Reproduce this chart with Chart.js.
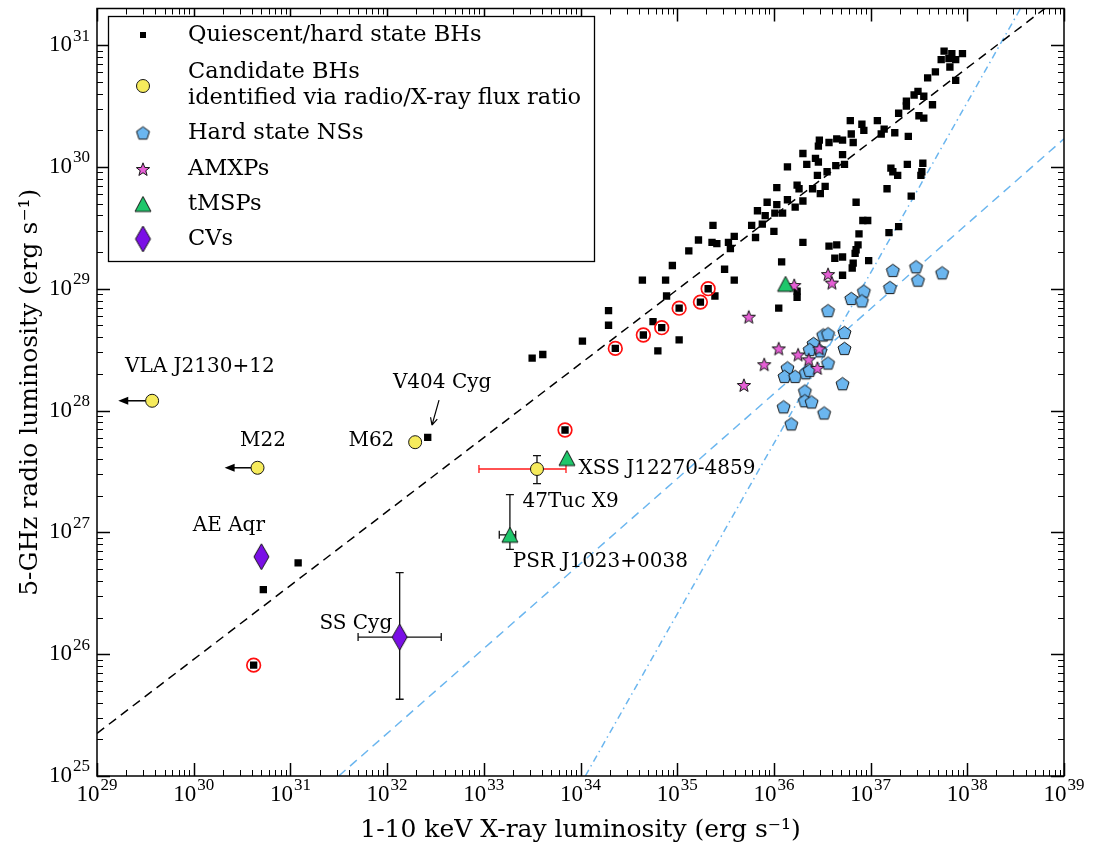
<!DOCTYPE html>
<html>
<head>
<meta charset="utf-8">
<script src="https://cdn.jsdelivr.net/npm/chart.js@4.4.1/dist/chart.umd.min.js"></script>
<style>
  body { margin: 0; background: #fff; }
</style>
</head>
<body>
<canvas id="chart" width="1100" height="850"></canvas>
<script>
// values are log10 of luminosity (erg/s)

// quiescent / hard state black holes
const bhLogLx = [37.76, 37.84, 37.95, 37.73, 37.81, 37.88, 37.82, 37.88, 37.67, 37.59,
  37.49, 37.45, 37.55, 37.37, 37.37, 37.29, 37.64, 37.50, 37.55, 37.39,
  37.25, 37.14, 37.11, 37.07, 36.91, 36.93, 36.79, 36.80, 36.82, 36.71,
  36.65, 36.57, 36.47, 36.46, 36.30, 36.43, 36.34, 36.46, 36.71, 36.64,
  36.73, 36.55, 36.45, 36.14, 36.03, 36.24, 36.26, 36.40, 36.53, 36.48,
  36.14, 36.30, 36.22, 35.93, 36.03, 36.01, 36.09, 35.83, 35.91, 35.88,
  35.77, 36.00, 35.81, 35.59, 35.53, 35.55, 35.41, 35.36, 35.22, 35.37,
  35.12, 36.30, 36.08, 35.49, 35.59, 34.95, 34.88, 34.64, 34.89, 34.29,
  35.39, 34.29, 34.02, 34.75, 34.80, 35.02, 33.50, 33.61,
  37.54, 37.38, 37.21, 37.23, 37.28, 37.53, 37.52, 37.17, 37.42, 36.85,
  36.92, 36.97, 37.29, 37.19, 36.88, 36.87, 36.85, 36.84, 36.98, 36.82,
  36.81, 36.71, 36.57, 36.65, 36.63, 36.71, 36.24, 36.24, 36.05,
  32.42, 31.08, 30.72];
const bhLogLr = [30.95, 30.93, 30.93, 30.88, 30.89, 30.88, 30.82, 30.71, 30.78, 30.73,
  30.62, 30.59, 30.58, 30.54, 30.50, 30.44, 30.51, 30.42, 30.40, 30.25,
  30.28, 30.31, 30.27, 30.38, 30.35, 30.30, 30.38, 30.27, 30.20, 30.22,
  30.23, 30.20, 30.22, 30.17, 30.11, 30.07, 30.02, 30.04, 30.10, 30.01,
  30.02, 29.96, 29.93, 30.00, 29.83, 29.85, 29.82, 29.82, 29.84, 29.78,
  29.73, 29.72, 29.67, 29.71, 29.69, 29.62, 29.62, 29.64, 29.60, 29.53,
  29.52, 29.47, 29.42, 29.43, 29.38, 29.33, 29.37, 29.38, 29.40, 29.52,
  29.31, 29.38, 29.22, 29.16, 29.07, 29.19, 29.07, 29.07, 28.94, 28.82,
  28.94, 28.70, 28.57, 28.73, 28.49, 28.58, 28.43, 28.46,
  30.03, 30.02, 29.99, 29.96, 29.93, 29.96, 29.93, 29.82, 29.76, 29.71,
  29.56, 29.56, 29.51, 29.46, 29.45, 29.36, 29.32, 29.29, 29.23, 29.21,
  29.17, 29.11, 29.35, 29.36, 29.25, 29.26, 28.98, 28.93, 28.84,
  27.78, 26.75, 26.53];

// black holes ringed in red
const ringLogLx = [34.36, 34.65, 34.84, 35.02, 35.24, 35.32, 33.84, 30.62];
const ringLogLr = [28.51, 28.62, 28.68, 28.84, 28.89, 29.00, 27.84, 25.91];

// candidate BHs: VLA J2130+12, M22, M62, 47Tuc X9
const candLogLx = [29.57, 30.66, 32.29, 33.55];
const candLogLr = [28.08, 27.53, 27.74, 27.52];
// upper limits in X-ray for the first two candidates
const limitLogLx = [29.22, 30.32];

// hard state neutron stars
const nsLogLx = [37.23, 37.47, 37.74, 37.49, 37.20, 36.93, 36.80, 36.91, 36.56, 36.73,
  36.51, 36.56, 36.73, 36.41, 36.37, 36.48, 36.56, 36.14, 36.11, 36.22,
  36.33, 36.37, 36.71, 36.32, 36.32, 36.39, 36.10, 36.52, 36.18];
const nsLogLr = [29.15, 29.18, 29.13, 29.07, 29.01, 28.98, 28.92, 28.90, 28.82, 28.64,
  28.62, 28.63, 28.51, 28.55, 28.50, 28.49, 28.39, 28.35, 28.28, 28.28,
  28.31, 28.33, 28.22, 28.16, 28.08, 28.07, 28.03, 27.98, 27.89];

// accreting millisecond X-ray pulsars
const amxpLogLx = [35.74, 36.05, 36.25, 35.90, 35.69, 36.36, 36.47, 36.45, 36.56, 36.60, 36.21];
const amxpLogLr = [28.77, 28.51, 28.46, 28.38, 28.21, 28.42, 28.51, 28.35, 29.12, 29.05, 29.03];

// transitional MSPs: XSS J12270-4859, PSR J1023+0038, one more
const tmspLogLx = [33.86, 33.27, 36.12];
const tmspLogLr = [27.61, 26.98, 29.04];

// CVs: AE Aqr, SS Cyg
const cvLogLx = [30.70, 32.13];
const cvLogLr = [26.80, 26.14];

// error bars: 47Tuc X9, PSR J1023+0038, SS Cyg
const errLogLx = [33.55, 33.27, 32.13];
const errLogLr = [27.52, 26.98, 26.14];
const errXlo = [32.95, 33.16, 31.70];
const errXhi = [33.85, 33.33, 32.56];
const errYlo = [27.40, 26.86, 25.63];
const errYhi = [27.63, 27.31, 26.67];

// correlation lines (two end points each)
const bhLineLx = [29.0, 39.0];
const bhLineLr = [25.35, 31.42];
const nsLineLx = [31.5, 39.0];
const nsLineLr = [25.0, 30.23];
const steepLineLx = [34.05, 38.6];
const steepLineLr = [25.0, 31.37];

// text labels, anchored at left / middle
const labelText = ['VLA J2130+12', 'V404 Cyg', 'M62', 'M22', 'AE Aqr', 'SS Cyg',
  'XSS J12270-4859', '47Tuc X9', 'PSR J1023+0038'];
const labelLogLx = [29.29, 32.06, 31.60, 30.48, 29.99, 31.30, 33.98, 33.40, 33.30];
const labelLogLr = [28.355, 28.23, 27.75, 27.75, 27.05, 26.25, 27.52, 27.25, 26.76];

const xDecades = [29, 30, 31, 32, 33, 34, 35, 36, 37, 38, 39];
const yDecades = [25, 26, 27, 28, 29, 30, 31];

const legendLabels = [['Quiescent/hard state BHs'],
  ['Candidate BHs', 'identified via radio/X-ray flux ratio'],
  ['Hard state NSs'], ['AMXPs'], ['tMSPs'], ['CVs']];

// ---- helpers ----
const pts = (xs, ys) => xs.map((v, i) => ({ x: 10 ** v, y: 10 ** ys[i] }));

const YELLOW = '#f6eb5c', BLUE = '#6bb6ef', PINK = '#e65fd6', GREEN = '#1fc76b', PURPLE = '#7a0fe6';
const TEXT_FONT = '20px "DejaVu Serif"';
const LEGEND_FONT = '22.5px "DejaVu Serif"';
const TICK_FONT = '23px "Liberation Serif"';
const EXP_FONT = '17px "Liberation Serif"';
const TITLE_FONT = '25px "DejaVu Serif"';

function shape(w, h, fill, path) {
  const c = document.createElement('canvas');
  c.width = w + 4; c.height = h + 4;
  const g = c.getContext('2d');
  g.translate(c.width / 2, c.height / 2);
  g.beginPath();
  path(g, w / 2, h / 2);
  g.closePath();
  g.fillStyle = fill; g.fill();
  g.lineWidth = 1; g.strokeStyle = '#151515'; g.stroke();
  return c;
}

const pentagon = shape(13, 13, BLUE, (g, rx) => {
  const r = rx / Math.sin(Math.PI * 0.4);
  for (let i = 0; i < 5; i++) {
    const a = -Math.PI / 2 + i * 2 * Math.PI / 5;
    g.lineTo(r * Math.cos(a), r * Math.sin(a) + 0.6);
  }
});
const star = shape(14, 14, PINK, (g, rx) => {
  for (let i = 0; i < 10; i++) {
    const a = -Math.PI / 2 + i * Math.PI / 5;
    const r = i % 2 ? rx * 0.42 : rx;
    g.lineTo(r * Math.cos(a), r * Math.sin(a) + 0.8);
  }
});
const triangle = shape(16, 15, GREEN, (g, rx, ry) => {
  g.moveTo(0, -ry); g.lineTo(rx, ry); g.lineTo(-rx, ry);
});
const diamond = shape(15, 26, PURPLE, (g, rx, ry) => {
  g.moveTo(0, -ry); g.lineTo(rx, 0); g.lineTo(0, ry); g.lineTo(-rx, 0);
});

function supText(ctx, exp, x, y, align) {
  ctx.font = TICK_FONT;
  const wb = ctx.measureText('10').width;
  ctx.font = EXP_FONT;
  const we = ctx.measureText(exp).width;
  const x0 = align === 'center' ? x - (wb + we + 1) / 2 : x - (wb + we + 1);
  ctx.textAlign = 'left';
  ctx.textBaseline = 'middle';
  ctx.font = TICK_FONT;
  ctx.fillText('10', x0, y);
  ctx.font = EXP_FONT;
  ctx.fillText(exp, x0 + wb + 1, y - 9);
}

function arrowHead(ctx, x, y, dir, len, half) {
  ctx.beginPath();
  ctx.moveTo(x, y);
  ctx.lineTo(x - dir * len, y - half);
  ctx.lineTo(x - dir * len, y + half);
  ctx.closePath();
  ctx.fill();
}

const overlay = {
  id: 'overlay',
  beforeDatasetsDraw(chart) {
    const { ctx, scales: { x, y } } = chart;
    ctx.save();
    ctx.lineWidth = 1.3;
    errLogLx.forEach((lx, i) => {
      const px = x.getPixelForValue(10 ** lx), py = y.getPixelForValue(10 ** errLogLr[i]);
      const x1 = x.getPixelForValue(10 ** errXlo[i]), x2 = x.getPixelForValue(10 ** errXhi[i]);
      const y1 = y.getPixelForValue(10 ** errYlo[i]), y2 = y.getPixelForValue(10 ** errYhi[i]);
      ctx.strokeStyle = i === 0 ? '#ff1a1a' : '#111';
      ctx.beginPath();
      ctx.moveTo(x1, py); ctx.lineTo(x2, py);
      ctx.moveTo(x1, py - 4); ctx.lineTo(x1, py + 4);
      ctx.moveTo(x2, py - 4); ctx.lineTo(x2, py + 4);
      ctx.stroke();
      ctx.strokeStyle = '#111';
      ctx.beginPath();
      ctx.moveTo(px, y1); ctx.lineTo(px, y2);
      ctx.moveTo(px - 4, y1); ctx.lineTo(px + 4, y1);
      ctx.moveTo(px - 4, y2); ctx.lineTo(px + 4, y2);
      ctx.stroke();
    });
    // upper limit arrows
    ctx.strokeStyle = '#000'; ctx.fillStyle = '#000'; ctx.lineWidth = 1.5;
    limitLogLx.forEach((lx, i) => {
      const px0 = x.getPixelForValue(10 ** candLogLx[i]);
      const px1 = x.getPixelForValue(10 ** lx);
      const py = y.getPixelForValue(10 ** candLogLr[i]);
      ctx.beginPath(); ctx.moveTo(px0, py); ctx.lineTo(px1 + 8, py); ctx.stroke();
      arrowHead(ctx, px1, py, -1, 10, 4);
    });
    ctx.restore();
  },
  afterDraw(chart) {
    const { ctx, chartArea: a, scales: { x, y } } = chart;
    ctx.save();
    ctx.strokeStyle = '#000';
    ctx.fillStyle = '#000';

    // inward ticks on all four sides
    xDecades.forEach(d => {
      for (let m = 1; m <= 9; m++) {
        if (d === 39 && m > 1) break;
        const px = Math.round(x.getPixelForValue(m * 10 ** d)) + 0.5;
        const len = m === 1 ? 13 : 6;
        ctx.lineWidth = m === 1 ? 1.5 : 1;
        ctx.beginPath();
        ctx.moveTo(px, a.bottom); ctx.lineTo(px, a.bottom - len);
        ctx.moveTo(px, a.top); ctx.lineTo(px, a.top + len);
        ctx.stroke();
      }
    });
    yDecades.forEach(d => {
      for (let m = 1; m <= 9; m++) {
        const v = m * 10 ** d;
        if (v > y.max) break;
        const py = Math.round(y.getPixelForValue(v)) + 0.5;
        const len = m === 1 ? 13 : 6;
        ctx.lineWidth = m === 1 ? 1.5 : 1;
        ctx.beginPath();
        ctx.moveTo(a.left, py); ctx.lineTo(a.left + len, py);
        ctx.moveTo(a.right, py); ctx.lineTo(a.right - len, py);
        ctx.stroke();
      }
    });
    ctx.lineWidth = 1.5;
    ctx.strokeRect(a.left, a.top, a.right - a.left, a.bottom - a.top);

    // tick labels
    xDecades.forEach(d => supText(ctx, String(d), x.getPixelForValue(10 ** d), a.bottom + 19, 'center'));
    yDecades.forEach(d => supText(ctx, String(d), a.left - 7, y.getPixelForValue(10 ** d), 'right'));

    // axis titles
    ctx.font = TITLE_FONT;
    ctx.textAlign = 'center';
    ctx.textBaseline = 'middle';
    ctx.fillText('1-10 keV X-ray luminosity (erg s\u207B\u00B9)', (a.left + a.right) / 2, 830);
    ctx.save();
    ctx.translate(30, (a.top + a.bottom) / 2);
    ctx.rotate(-Math.PI / 2);
    ctx.fillText('5-GHz radio luminosity (erg s\u207B\u00B9)', 0, 0);
    ctx.restore();

    // source labels
    ctx.font = TEXT_FONT;
    ctx.textAlign = 'left';
    labelText.forEach((t, i) => {
      ctx.fillText(t, x.getPixelForValue(10 ** labelLogLx[i]), y.getPixelForValue(10 ** labelLogLr[i]));
    });
    // V404 Cyg pointer
    const ax0 = x.getPixelForValue(10 ** 32.537), ay0 = y.getPixelForValue(10 ** 28.086);
    const ax1 = x.getPixelForValue(10 ** 32.464), ay1 = y.getPixelForValue(10 ** 27.88);
    ctx.lineWidth = 1.2;
    ctx.beginPath();
    ctx.moveTo(ax0, ay0); ctx.lineTo(ax1, ay1);
    const ang = Math.atan2(ay1 - ay0, ax1 - ax0);
    [0.45, -0.45].forEach(o => {
      ctx.moveTo(ax1, ay1);
      ctx.lineTo(ax1 - 8 * Math.cos(ang + o), ay1 - 8 * Math.sin(ang + o));
    });
    ctx.stroke();

    // legend
    const lx = 108, ly = 16, lw = 486, lh = 245;
    ctx.fillStyle = '#fff';
    ctx.fillRect(lx, ly, lw, lh);
    ctx.lineWidth = 1.3;
    ctx.strokeRect(lx + 0.5, ly + 0.5, lw, lh);
    const mx = 143;
    const rowY = [35, 86, 133, 169, 204, 239];
    ctx.fillStyle = '#000';
    ctx.fillRect(mx - 3, rowY[0] - 3, 6, 6);
    ctx.beginPath();
    ctx.arc(mx, rowY[1], 6.5, 0, Math.PI * 2);
    ctx.fillStyle = YELLOW; ctx.fill();
    ctx.lineWidth = 1; ctx.strokeStyle = '#151515'; ctx.stroke();
    [pentagon, star, triangle, diamond].forEach((img, i) => {
      ctx.drawImage(img, mx - img.width / 2, rowY[i + 2] - img.height / 2);
    });
    ctx.fillStyle = '#000';
    ctx.font = LEGEND_FONT;
    ctx.textBaseline = 'middle';
    legendLabels.forEach((lines, i) => {
      if (lines.length === 1) ctx.fillText(lines[0], 188, rowY[i]);
      else { ctx.fillText(lines[0], 188, 72); ctx.fillText(lines[1], 188, 98); }
    });
    ctx.restore();
  }
};

const lineStyle = { type: 'line', showLine: true, pointRadius: 0, borderWidth: 1.5, fill: false, tension: 0 };

new Chart(document.getElementById('chart'), {
  type: 'scatter',
  data: {
    datasets: [
      { ...lineStyle, data: pts(bhLineLx, bhLineLr), borderColor: '#000', borderDash: [9, 6], order: 10 },
      { ...lineStyle, data: pts(nsLineLx, nsLineLr), borderColor: BLUE, borderDash: [9, 6], order: 10 },
      { ...lineStyle, data: pts(steepLineLx, steepLineLr), borderColor: BLUE, borderDash: [7, 4, 1.5, 4], order: 10 },
      { label: 'Quiescent/hard state BHs', data: pts(bhLogLx.concat(ringLogLx), bhLogLr.concat(ringLogLr)),
        pointStyle: 'rect', pointRadius: 5.2, backgroundColor: '#000', borderWidth: 0, order: 9 },
      { data: pts(ringLogLx, ringLogLr), pointStyle: 'circle', pointRadius: 6.8,
        backgroundColor: 'rgba(0,0,0,0)', borderColor: '#ff1010', borderWidth: 1.7, order: 8 },
      { label: 'Hard state NSs', data: pts(nsLogLx, nsLogLr), pointStyle: pentagon, order: 7 },
      { label: 'AMXPs', data: pts(amxpLogLx, amxpLogLr), pointStyle: star, order: 6 },
      { label: 'tMSPs', data: pts(tmspLogLx, tmspLogLr), pointStyle: triangle, order: 5 },
      { label: 'Candidate BHs', data: pts(candLogLx, candLogLr), pointStyle: 'circle', pointRadius: 6.5,
        backgroundColor: YELLOW, borderColor: '#151515', borderWidth: 1, order: 4 },
      { label: 'CVs', data: pts(cvLogLx, cvLogLr), pointStyle: diamond, order: 3 }
    ]
  },
  options: {
    responsive: false,
    animation: false,
    devicePixelRatio: 1,
    layout: { padding: { left: 97, right: 36, top: 4, bottom: 74 } },
    plugins: { legend: { display: false }, tooltip: { enabled: false } },
    scales: {
      x: { type: 'logarithmic', min: 1e29, max: 1e39,
        ticks: { display: false }, grid: { display: false }, border: { display: false },
        afterFit: s => { s.height = 0; } },
      y: { type: 'logarithmic', min: 1e25, max: 10 ** 31.3,
        ticks: { display: false }, grid: { display: false }, border: { display: false },
        afterFit: s => { s.width = 0; } }
    }
  },
  plugins: [overlay]
});
</script>
</body>
</html>
